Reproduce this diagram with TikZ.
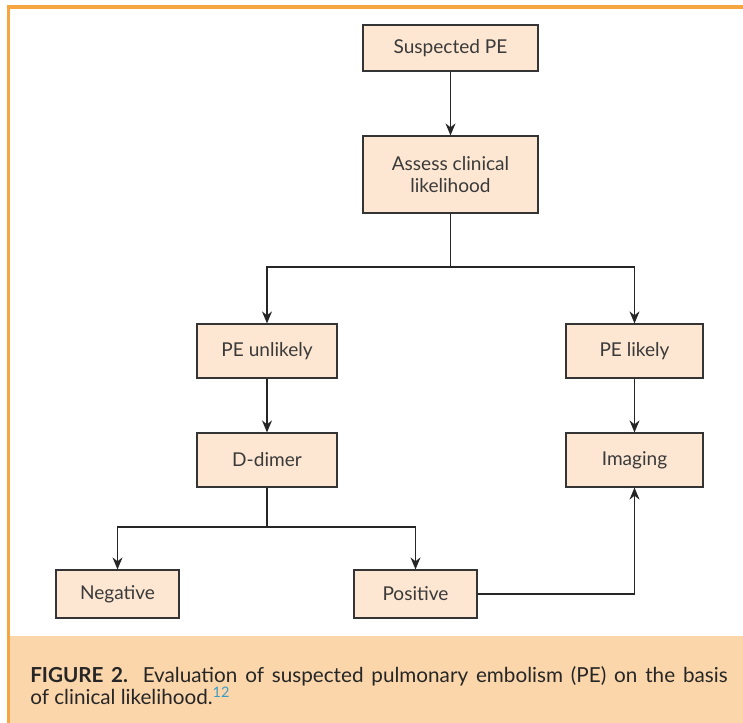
\documentclass[tikz,border=0pt]{standalone}
\usepackage{fontspec}
\setmainfont{Lato}
\usetikzlibrary{arrows.meta}
\definecolor{boxfill}{HTML}{FDE7D2}
\definecolor{capfill}{HTML}{FBD6AB}
\definecolor{frameorange}{HTML}{F7A540}
\definecolor{txt}{HTML}{3A3A3A}
\definecolor{refblue}{HTML}{3A9CC4}
\tikzset{
  box/.style={draw=txt!90!black, line width=0.9pt, fill=boxfill, text=txt, font=\fontsize{14.3}{17}\selectfont, inner sep=0pt, align=center},
  arr/.style={draw=black!85, line width=0.9pt, -{Stealth[length=9pt,width=7.5pt]}},
  ln/.style={draw=black!85, line width=0.9pt}
}
\begin{document}
\begin{tikzpicture}[x=0.75pt,y=-0.75pt]
\useasboundingbox (0,0) rectangle (743,723);
\fill[white] (0,0) rectangle (743,723);
% caption background
\fill[capfill] (10,636) rectangle (743,723);
% frame
\fill[frameorange] (7,5) rectangle (743,9.5);
\fill[frameorange] (7,5) rectangle (10,723);
% nodes
\node[box, minimum width=131.25pt, minimum height=34.5pt] (s) at (450.5,48) {Suspected PE};
\node[box, minimum width=131.25pt, minimum height=57.75pt] (a) at (450.5,174.5) {Assess clinical\\likelihood};
\node[box, minimum width=105pt, minimum height=40.5pt] (u) at (267,351) {PE unlikely};
\node[box, minimum width=102.75pt, minimum height=40.5pt] (l) at (634.5,351) {PE likely};
\node[box, minimum width=105pt, minimum height=40.5pt] (d) at (267,460) {D-dimer};
\node[box, minimum width=102.75pt, minimum height=40.5pt] (i) at (634.5,460) {Imaging};
\node[box, minimum width=92.25pt, minimum height=36pt] (n) at (117.5,594) {Negative};
\node[box, minimum width=92.25pt, minimum height=36pt] (p) at (415.5,594) {Positive};
\coordinate (b1) at (450.5,267);
\coordinate (b2) at (267,527);
% connectors
\draw[arr] (s) -- (a);
\draw[ln] (a) -- (b1);
\draw[arr] (b1) -| (u);
\draw[arr] (b1) -| (l);
\draw[arr] (u) -- (d);
\draw[arr] (l) -- (i);
\draw[ln] (d) -- (b2);
\draw[arr] (b2) -| (n);
\draw[arr] (b2) -| (p);
\draw[arr] (p) -| (i);
% caption
\node[anchor=north west, text=black!85, align=justify, text width=523pt, font=\fontsize{15.5}{17}\selectfont, inner sep=0pt] (cap) at (30,666)
{\textbf{FIGURE 2.} Evaluation of suspected pulmonary embolism (PE) on the basis\linebreak of clinical likelihood.\textsuperscript{\textcolor{refblue}{12}}};
\end{tikzpicture}
\end{document}
